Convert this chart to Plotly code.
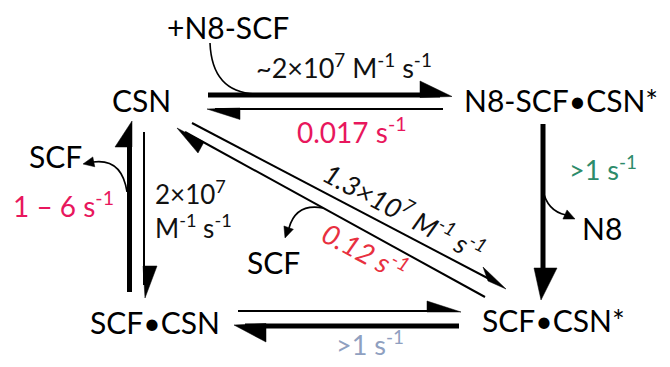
import plotly.graph_objects as go
import math

# ---------------- data (texts) ----------------
species = ["CSN", "N8-SCF•CSN*", "SCF•CSN", "SCF•CSN*"]
side_species = ["+N8-SCF", "SCF", "SCF", "N8"]
rate_labels = [
    "~2×10<sup>7</sup> M<sup>-1</sup> s<sup>-1</sup>",
    "0.017 s<sup>-1</sup>",
    "2×10<sup>7</sup><br>M<sup>-1</sup> s<sup>-1</sup>",
    "1 – 6 s<sup>-1</sup>",
    ">1 s<sup>-1</sup>",
    ">1 s<sup>-1</sup>",
    "<i>1.3×10<sup>7</sup> M<sup>-1</sup> s<sup>-1</sup></i>",
    "<i>0.12 s<sup>-1</sup></i>",
]
rate_colors = ["#111111", "#e8175d", "#111111", "#e8175d", "#2e8b6a", "#8fa0c0", "#111111", "#e8303f"]

# ---------------- layout (positions) ----------------
species_pos = [(141, 100), (561, 100), (155, 322), (553, 320)]
side_pos = [(228, 27), (55, 156), (273, 262), (602, 228)]
rate_pos = [(344, 66, "center", 0), (352, 130, "center", 0), (153, 209, "left", 0),
            (63, 204, "center", 0), (603, 168, "center", 0), (370, 343, "center", 0),
            (405, 211, "center", 28), (365, 250, "center", 28)]
rate_sizes = [27, 28, 26, 28, 27, 27, 27, 28]

FONT = "Lato"
K = "#000000"

fig = go.Figure()
fig.add_trace(go.Scatter(x=[0, 670], y=[0, 367], mode="markers",
                         marker=dict(opacity=0), hoverinfo="skip", showlegend=False))

shapes = []

def line(x0, y0, x1, y1, w):
    shapes.append(dict(type="line", x0=x0, y0=y0, x1=x1, y1=y1,
                       line=dict(color=K, width=w), layer="above"))

def tri(pts):
    p = "M " + " L ".join(f"{x},{y}" for x, y in pts) + " Z"
    shapes.append(dict(type="path", path=p, fillcolor=K, line=dict(color=K, width=0.5)))

def curve(p0, c, p1, w=1.6):
    shapes.append(dict(type="path", path=f"M {p0[0]},{p0[1]} Q {c[0]},{c[1]} {p1[0]},{p1[1]}",
                       line=dict(color=K, width=w)))

def head(tip, d, length=11, half=5):
    n = math.hypot(*d)
    ux, uy = d[0] / n, d[1] / n
    bx, by = tip[0] - length * ux, tip[1] - length * uy
    px, py = -uy * half, ux * half
    tri([tip, (bx + px, by + py), (bx - px, by - py)])

# top pair
line(208, 95, 440, 95, 5)
tri([(452, 96.5), (420, 81), (420, 97.5)])
line(215, 109, 443, 109, 2)
tri([(207, 109), (240, 119.5), (240, 108)])
curve((210, 43), (212, 92), (255, 94))

# right vertical
line(543, 124, 543, 276, 5)
tri([(534, 268), (557, 268), (541, 300)])
curve((543, 190), (547, 211), (566, 215))
head((575, 219), (1, 0.45))

# left pair
line(129.5, 292, 129.5, 140, 5)
tri([(132, 121), (115, 147), (132, 147)])
curve((127, 192), (122, 158), (93, 162))
head((83, 164), (-1, 0.2))
line(144, 132, 144, 285, 2)
tri([(145, 298), (143, 266), (157, 266)])

# bottom pair
line(238, 311, 455, 311, 2)
tri([(461, 312), (427, 301), (427, 312)])
line(245, 326, 459, 326, 5)
tri([(234, 325), (266, 342), (266, 323.5)])

# diagonal pair
line(192, 123, 495, 282, 2)
tri([(506, 289), (483, 267), (488, 281)])
line(185, 132, 485, 297, 2)
tri([(177, 128), (198, 153), (204, 142)])
curve((323, 208), (296, 203), (289, 228))
head((285, 238), (-0.35, 1))

annotations = []
for t, (x, y) in zip(species, species_pos):
    annotations.append(dict(x=x, y=y, text=t, showarrow=False, xanchor="center", yanchor="middle",
                            font=dict(family=FONT, size=30, color=K)))
for t, (x, y) in zip(side_species, side_pos):
    annotations.append(dict(x=x, y=y, text=t, showarrow=False, xanchor="center", yanchor="middle",
                            font=dict(family=FONT, size=30, color=K)))
for t, c, (x, y, anc, ang), s in zip(rate_labels, rate_colors, rate_pos, rate_sizes):
    annotations.append(dict(x=x, y=y, text=t, showarrow=False, xanchor=anc, yanchor="middle",
                            align="left", textangle=ang,
                            font=dict(family=FONT, size=s, color=c)))

fig.update_layout(
    width=670, height=367, margin=dict(l=0, r=0, t=0, b=0),
    paper_bgcolor="white", plot_bgcolor="white",
    xaxis=dict(range=[0, 670], visible=False, fixedrange=True),
    yaxis=dict(range=[367, 0], visible=False, fixedrange=True),
    shapes=shapes, annotations=annotations, showlegend=False,
)
fig.write_html("out.html", config={"displayModeBar": False, "staticPlot": True},
               post_script="document.body.style.margin='0';document.body.style.overflow='hidden';")
